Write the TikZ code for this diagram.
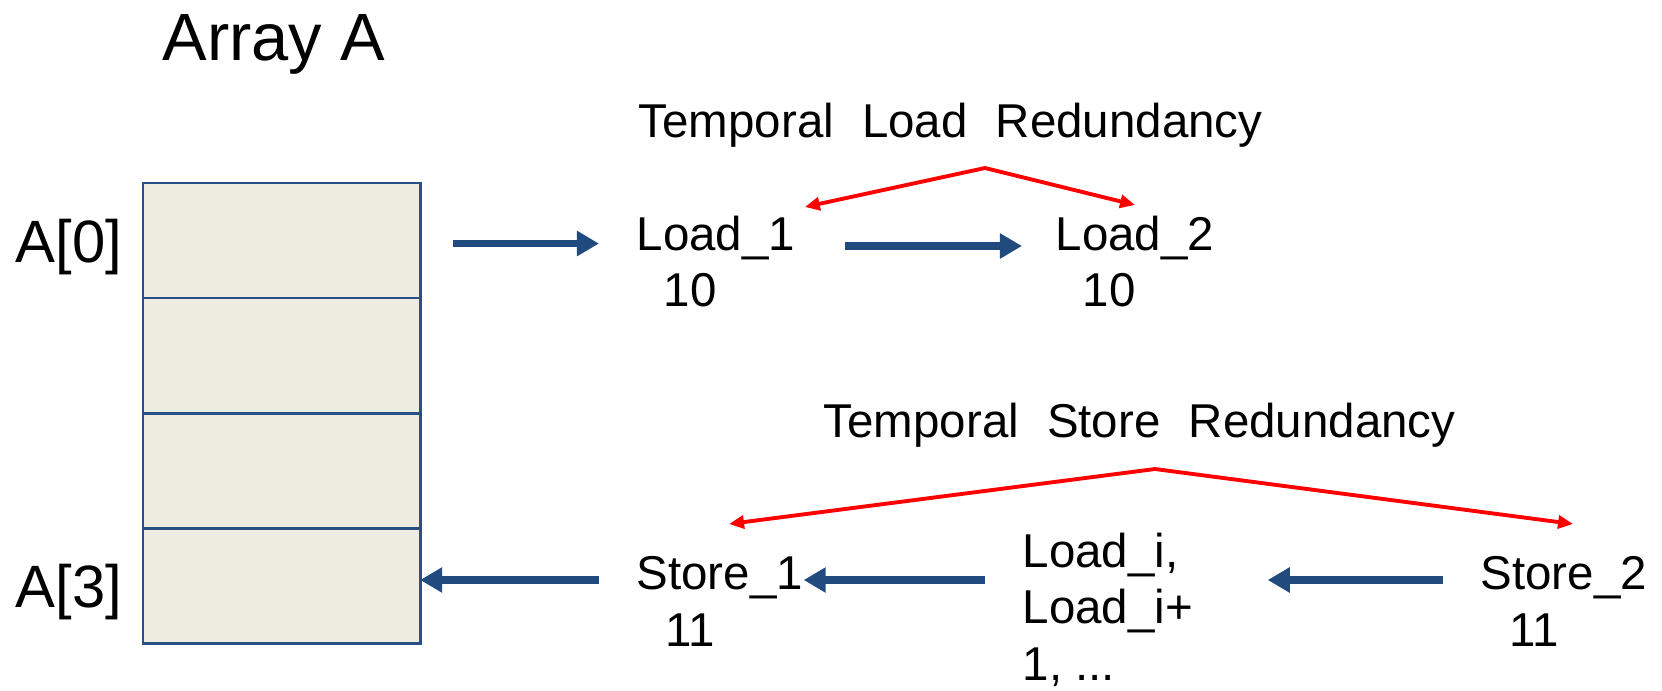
\documentclass[tikz,border=0pt]{standalone}
\usepackage{fontspec}
\setmainfont{Liberation Sans}
\usepackage{tikz}
\usetikzlibrary{positioning}
\usetikzlibrary{arrows.meta}
\definecolor{arrowblue}{RGB}{33,74,127}
\definecolor{boxblue}{RGB}{40,80,135}
\definecolor{boxfill}{RGB}{238,236,225}

\begin{document}
\begin{tikzpicture}[x=0.01cm,y=-0.01cm]
            \tikzset{cell/.style = {draw=boxblue, fill=boxfill, line width=0.8pt, minimum width=2.77cm, minimum height=1.15cm, inner sep=0pt, outer sep=0pt}}
            \tikzset{lbl/.style = {inner sep=0pt, anchor=base west, font=\fontsize{13.5}{16}\selectfont}}
            \tikzset{idx/.style = {inner sep=0pt, font=\fontsize{17}{20}\selectfont}}
            \tikzset{flow/.style = {-{Triangle[length=2.2mm,width=2.4mm]}, line width=2.2pt, arrowblue}}
            \tikzset{redund/.style = {{Triangle[length=1.5mm,width=1.3mm]}-{Triangle[length=1.5mm,width=1.3mm]}, line width=1.1pt, red}}

            \useasboundingbox (0,0) rectangle (1662,690);

            % the array
            \node[inner sep=0pt, anchor=base west, font=\fontsize{19}{22}\selectfont] (title) at (162,60) {Array A};
            \node[cell, anchor=north west] (cell0) at (143,183) {};
            \node[cell, below=0pt of cell0] (cell1) {};
            \node[cell, below=0pt of cell1] (cell2) {};
            \node[cell, below=0pt of cell2] (cell3) {};
            \node[idx, left=0.20cm of cell0, yshift=-0.06cm] (a0) {A[0]};
            \node[idx, left=0.20cm of cell3, yshift=-0.06cm] (a3) {A[3]};

            % loads
            \node[lbl] (ltitle) at (638,137) {Temporal\hspace{0.15cm} Load\hspace{0.15cm} Redundancy};
            \node[lbl] (load1) at (636,250) {Load\_1};
            \node[lbl] (load1v) at (663,306) {10};
            \node[lbl] (load2) at (1055,250) {Load\_2};
            \node[lbl] (load2v) at (1082,306) {10};

            % stores
            \node[lbl] (stitle) at (823,437) {Temporal\hspace{0.15cm} Store\hspace{0.15cm} Redundancy};
            \node[lbl] (store1) at (636,589) {Store\_1};
            \node[lbl] (store1v) at (665,646) {11};
            \node[lbl, align=left] (loadi) at (1022,680) {Load\_i,\\Load\_i+\\1, ...};
            \node[lbl] (store2) at (1480,589) {Store\_2};
            \node[lbl] (store2v) at (1509,646) {11};

            \coordinate (lapex) at (985,168);
            \coordinate (sapex) at (1155,469);

            \draw[flow, shorten <=0.33cm, shorten >=0.37cm] ([yshift=-0.03cm]cell0.east) -- ([yshift=-0.03cm]cell0.east -| load1.west);
            \draw[flow, shorten <=0.49cm, shorten >=0.33cm] ([yshift=0.04cm]load1.base east) -- ([yshift=0.04cm]load2.base west);
            \draw[redund] ([xshift=0.09cm,yshift=0.43cm]load1.base east) -- (lapex) -- ([xshift=0.80cm,yshift=0.45cm]load2.base west);

            \draw[flow, shorten <=0.37cm] ([yshift=0.09cm]store1.base west) -- ([yshift=0.09cm]store1.base west -| cell3.east);
            \draw[flow, shorten <=0.37cm] ([yshift=0.09cm]store1.base east -| loadi.west) -- ([yshift=0.09cm]store1.base east);
            \draw[flow, shorten <=0.37cm, shorten >=0.74cm] ([yshift=0.09cm]store2.base west) -- ([yshift=0.09cm]store2.base west -| loadi.east);
            \draw[redund] ([xshift=0.93cm,yshift=0.65cm]store1.base west) -- (sapex) -- ([xshift=0.93cm,yshift=0.65cm]store2.base west);

        \end{tikzpicture}
\end{document}
